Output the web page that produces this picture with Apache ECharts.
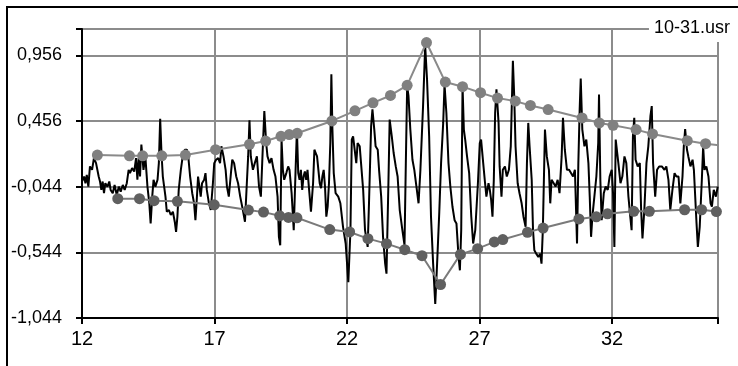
<!DOCTYPE html>
<html>
<head>
<meta charset="utf-8">
<script src="https://cdn.jsdelivr.net/npm/echarts@6/dist/echarts.min.js"></script>
<style>
  html, body { margin: 0; padding: 0; background: #fff; }
  #chart { width: 738px; height: 366px; }
</style>
</head>
<body>
<div id="chart"></div>
<script>
// Recorded signal, [time, amplitude]
const signal = [
  [12.00,-0.005],[12.08,0.033],[12.13,-0.018],[12.18,0.046],[12.24,-0.044],[12.30,0.110],[12.38,0.084],[12.45,0.173],[12.53,0.135],[12.58,0.148],
  [12.63,0.033],[12.68,-0.005],[12.73,-0.069],[12.78,-0.005],[12.83,-0.094],[12.88,-0.018],[12.96,-0.044],[13.03,-0.005],[13.08,-0.069],[13.16,-0.094],
  [13.23,-0.031],[13.31,-0.107],[13.39,-0.044],[13.46,-0.082],[13.54,-0.031],[13.61,-0.069],[13.69,-0.018],[13.76,0.084],[13.81,0.059],[13.89,0.097],
  [13.97,0.071],[14.04,0.173],[14.09,0.008],[14.14,0.173],[14.19,0.033],[14.24,0.276],[14.32,0.084],[14.39,0.186],[14.47,-0.044],[14.54,-0.171],
  [14.59,-0.324],[14.65,-0.120],[14.70,0.008],[14.77,-0.044],[14.85,0.008],[14.90,0.135],[14.95,0.472],[15.00,0.212],[15.05,0.033],[15.10,-0.044],
  [15.15,-0.120],[15.20,-0.235],[15.28,-0.222],[15.35,-0.260],[15.43,-0.235],[15.50,-0.311],[15.55,-0.388],[15.60,-0.273],[15.65,-0.069],[15.73,0.084],
  [15.80,0.186],[15.88,0.237],[15.96,0.237],[16.01,0.186],[16.08,0.033],[16.16,-0.094],[16.23,-0.171],[16.28,-0.299],[16.33,-0.146],[16.38,0.033],
  [16.43,-0.044],[16.48,-0.120],[16.53,-0.018],[16.61,0.008],[16.66,0.059],[16.71,-0.069],[16.79,-0.171],[16.86,-0.222],[16.94,-0.018],[16.99,0.135],
  [17.06,0.161],[17.14,0.173],[17.21,0.135],[17.26,0.263],[17.34,0.186],[17.42,0.084],[17.47,-0.044],[17.54,-0.120],[17.62,0.059],[17.67,0.161],
  [17.74,0.135],[17.82,0.033],[17.89,-0.018],[17.97,-0.120],[18.07,-0.222],[18.15,-0.311],[18.22,-0.018],[18.27,0.186],[18.32,0.462],[18.37,0.186],
  [18.45,0.084],[18.52,0.135],[18.60,0.186],[18.68,-0.044],[18.75,-0.120],[18.83,0.288],[18.88,0.531],[18.95,0.288],[19.00,0.186],[19.08,0.135],
  [19.15,0.173],[19.23,0.084],[19.30,0.033],[19.38,-0.120],[19.43,-0.426],[19.48,-0.490],[19.53,0.314],[19.58,0.084],[19.63,0.008],[19.71,0.059],
  [19.78,0.110],[19.83,0.084],[19.91,-0.094],[19.99,-0.375],[20.06,0.084],[20.11,0.390],[20.16,0.059],[20.21,0.008],[20.26,0.084],[20.31,-0.069],
  [20.36,0.033],[20.41,0.071],[20.46,0.008],[20.51,0.084],[20.56,-0.044],[20.64,-0.235],[20.72,-0.018],[20.77,0.237],[20.82,0.212],[20.87,0.186],
  [20.92,0.084],[20.97,-0.018],[21.02,-0.056],[21.07,0.033],[21.12,0.084],[21.17,-0.044],[21.22,-0.273],[21.27,-0.197],[21.32,-0.018],[21.37,0.288],
  [21.41,0.811],[21.45,0.390],[21.50,0.059],[21.57,-0.094],[21.67,-0.120],[21.75,-0.171],[21.85,-0.350],[21.95,-0.477],[22.05,-0.771],[22.13,-0.375],
  [22.18,0.314],[22.23,0.339],[22.30,0.339],[22.35,0.135],[22.40,0.288],[22.48,0.263],[22.53,0.135],[22.61,-0.069],[22.68,-0.375],[22.78,-0.503],
  [22.83,-0.171],[22.91,0.416],[22.96,0.544],[23.03,0.390],[23.08,0.263],[23.16,0.237],[23.21,0.084],[23.29,-0.120],[23.36,-0.426],[23.44,-0.630],
  [23.49,-0.707],[23.56,-0.044],[23.61,0.467],[23.69,0.339],[23.76,0.212],[23.84,0.110],[23.91,0.033],[23.99,-0.222],[24.09,-0.375],[24.17,-0.490],
  [24.22,0.135],[24.27,0.722],[24.32,0.646],[24.39,0.390],[24.47,0.161],[24.54,0.084],[24.62,-0.044],[24.70,-0.171],[24.77,0.084],[24.87,0.569],
  [24.95,1.028],[25.02,0.773],[25.10,0.339],[25.17,-0.273],[25.25,-0.630],[25.33,-0.937],[25.40,-0.630],[25.48,-0.248],[25.55,0.135],[25.63,0.441],
  [25.68,0.735],[25.75,0.518],[25.83,0.135],[25.90,-0.044],[25.98,-0.197],[26.06,-0.299],[26.13,-0.324],[26.21,-0.579],[26.26,-0.681],[26.31,-0.375],
  [26.36,0.722],[26.41,0.390],[26.46,0.314],[26.53,0.186],[26.61,0.059],[26.69,-0.273],[26.76,-0.477],[26.84,-0.375],[26.94,-0.018],[27.01,0.288],
  [27.06,0.314],[27.14,0.135],[27.21,-0.018],[27.26,-0.120],[27.34,-0.018],[27.39,-0.069],[27.44,-0.146],[27.49,-0.273],[27.54,0.008],[27.59,0.518],
  [27.64,0.697],[27.72,0.441],[27.76,0.110],[27.83,-0.120],[27.88,0.084],[27.96,0.110],[28.03,0.033],[28.11,0.084],[28.18,0.263],[28.26,0.914],
  [28.31,0.646],[28.36,0.263],[28.44,-0.018],[28.51,-0.094],[28.59,-0.171],[28.66,-0.273],[28.74,-0.350],[28.79,0.135],[28.84,0.441],[28.89,0.263],
  [28.97,0.008],[29.02,-0.375],[29.07,-0.528],[29.14,-0.554],[29.22,-0.579],[29.29,-0.554],[29.34,-0.630],[29.39,-0.375],[29.47,0.390],[29.54,0.186],
  [29.62,0.084],[29.67,-0.171],[29.72,0.008],[29.80,-0.018],[29.87,-0.044],[29.95,0.008],[30.02,-0.094],[30.10,0.186],[30.15,0.480],[30.22,0.237],
  [30.30,0.084],[30.38,0.084],[30.45,0.084],[30.53,0.033],[30.60,0.084],[30.68,-0.477],[30.73,0.135],[30.78,0.544],[30.82,0.778],[30.88,0.390],
  [30.96,0.263],[31.03,0.314],[31.11,0.135],[31.16,-0.120],[31.21,-0.426],[31.26,-0.273],[31.33,-0.273],[31.41,0.033],[31.48,0.288],[31.51,0.658],
  [31.56,0.008],[31.61,-0.299],[31.69,-0.094],[31.76,-0.044],[31.84,-0.069],[31.91,0.033],[31.99,0.084],[32.04,-0.094],[32.09,-0.503],[32.14,0.314],
  [32.19,0.314],[32.24,0.135],[32.32,-0.018],[32.39,0.033],[32.47,0.186],[32.54,0.135],[32.62,-0.120],[32.69,-0.273],[32.74,-0.375],[32.79,0.339],
  [32.84,0.480],[32.89,0.161],[32.97,0.110],[33.05,0.135],[33.10,-0.222],[33.15,-0.439],[33.22,-0.222],[33.30,0.135],[33.37,0.263],[33.45,0.492],
  [33.50,0.569],[33.55,0.135],[33.63,-0.120],[33.70,0.084],[33.78,0.110],[33.88,0.110],[33.98,0.084],[34.05,0.110],[34.13,0.008],[34.20,-0.222],
  [34.28,-0.069],[34.36,0.059],[34.43,0.033],[34.51,0.033],[34.58,-0.171],[34.66,0.033],[34.71,0.263],[34.76,0.395],[34.83,0.237],[34.88,0.186],
  [34.96,0.110],[35.04,0.161],[35.09,0.084],[35.14,-0.120],[35.19,-0.324],[35.24,-0.503],[35.31,-0.350],[35.39,0.008],[35.44,0.263],[35.49,0.084],
  [35.56,0.110],[35.64,0.033],[35.72,-0.171],[35.77,-0.197],[35.84,-0.069],[35.92,-0.120],[35.99,-0.044]
];

// Upper envelope (positive peaks)
const upperPeaks = [
  [12.58,0.196],[13.79,0.191],[14.29,0.191],[15.01,0.191],[15.90,0.196],[17.04,0.237],[18.32,0.278],[18.93,0.303],
  [19.51,0.339],[19.82,0.352],[20.12,0.362],[21.43,0.456],[22.30,0.533],[22.98,0.594],[23.64,0.650],[24.27,0.727],
  [25.00,1.053],[25.71,0.752],[26.36,0.717],[27.04,0.671],[27.68,0.630],[28.35,0.607],[28.92,0.574],[29.59,0.543],
  [30.87,0.479],[31.52,0.441],[32.04,0.423],[32.91,0.390],[33.53,0.357],[34.84,0.306],[35.53,0.283],[36.30,0.265]
];

// Lower envelope (negative peaks)
const lowerPeaks = [
  [13.35,-0.136],[14.17,-0.136],[14.72,-0.151],[15.60,-0.156],[16.99,-0.182],[18.28,-0.222],[18.85,-0.238],
  [19.46,-0.266],[19.79,-0.278],[20.11,-0.281],[21.35,-0.371],[22.10,-0.389],[22.79,-0.440],[23.49,-0.478],
  [24.18,-0.524],[24.83,-0.570],[25.53,-0.789],[26.28,-0.560],[26.93,-0.516],[27.56,-0.465],[27.88,-0.447],
  [28.81,-0.392],[29.40,-0.359],[30.75,-0.290],[31.41,-0.274],[31.83,-0.251],[32.82,-0.232],[33.41,-0.232],
  [34.74,-0.220],[35.38,-0.220],[35.94,-0.234]
];

// Axis scale settings
const xMin = 12, xMax = 36, xStep = 5;
const yMin = -1.044, yMax = 1.156, yStep = 0.5;
const chartTitle = '10-31.usr';

const FONT = "'Liberation Sans', Arial, sans-serif";
const chart = echarts.init(document.getElementById('chart'), null, { renderer: 'canvas' });

chart.setOption({
  animation: false,
  backgroundColor: '#fff',
  title: {
    text: chartTitle,
    right: 6,
    top: 15,
    padding: [3, 2, 4, 5],
    backgroundColor: '#fff',
    textStyle: { fontFamily: FONT, fontSize: 18, fontWeight: 'normal', color: '#000', lineHeight: 20 }
  },
  graphic: [{
    type: 'rect',
    silent: true,
    z: -10,
    shape: { x: 7, y: 7, width: 780, height: 420 },
    style: { fill: 'none', stroke: '#000', lineWidth: 2 }
  }],
  grid: {
    left: 82, right: 20, top: 29, bottom: 48,
    show: true, borderColor: '#000', borderWidth: 2, backgroundColor: 'transparent'
  },
  xAxis: {
    type: 'value',
    min: xMin, max: xMax, interval: xStep,
    axisLine: { onZero: false, lineStyle: { color: '#000', width: 2 } },
    axisTick: { length: 6, lineStyle: { color: '#000', width: 2 } },
    axisLabel: {
      margin: 11, fontFamily: FONT, fontSize: 20, color: '#000',
      formatter: v => (v >= xMax ? '' : String(v))
    },
    splitLine: { show: true, lineStyle: { color: '#8c8c8c', width: 2 } }
  },
  yAxis: {
    type: 'value',
    min: yMin, max: yMax, interval: yStep,
    axisLine: { onZero: false, lineStyle: { color: '#000', width: 2 } },
    axisTick: { length: 6, lineStyle: { color: '#000', width: 2 } },
    axisLabel: {
      margin: 20, fontFamily: FONT, fontSize: 18, color: '#000',
      formatter: v => (v > yMax - 0.1 ? '' : v.toFixed(3).replace('.', ','))
    },
    splitLine: { show: true, lineStyle: { color: '#8c8c8c', width: 2 } }
  },
  series: [
    {
      name: 'signal',
      type: 'line',
      data: signal,
      showSymbol: false,
      z: 2,
      lineStyle: { color: '#000', width: 2 }
    },
    {
      name: 'upper',
      type: 'line',
      data: upperPeaks,
      symbol: 'circle',
      symbolSize: 11,
      z: 3,
      lineStyle: { color: '#8a8a8a', width: 2 },
      itemStyle: { color: '#808080', borderWidth: 0 }
    },
    {
      name: 'lower',
      type: 'line',
      data: lowerPeaks,
      symbol: 'circle',
      symbolSize: 11,
      z: 3,
      lineStyle: { color: '#7a7a7a', width: 2 },
      itemStyle: { color: '#606060', borderWidth: 0 }
    }
  ]
});
</script>
</body>
</html>
